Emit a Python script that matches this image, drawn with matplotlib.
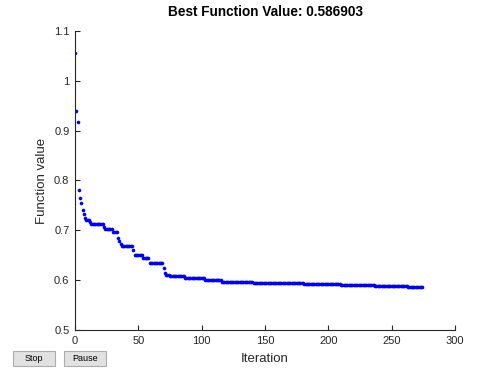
import numpy as np
import matplotlib
matplotlib.use('Agg')
import matplotlib.pyplot as plt
from matplotlib.patches import FancyBboxPatch

plt.rcParams['font.family'] = ['Liberation Sans', 'DejaVu Sans']

# --- valores: melhor valor da funcao por iteracao (em blocos) ---
best_vals = [1.055, 0.940, 0.917, 0.780, 0.765, 0.755, 0.741, 0.733, 0.725,
             0.721, 0.717, 0.713, 0.707, 0.703, 0.697, 0.685, 0.678, 0.673,
             0.669, 0.661, 0.651, 0.645, 0.634, 0.624, 0.614, 0.610, 0.608,
             0.605, 0.600, 0.596, 0.594, 0.592, 0.590, 0.589, 0.586903]
run_lengths = [1, 1, 1, 1, 1, 1, 1, 1, 1,
               3, 1, 10, 1, 6, 4, 1, 1, 1,
               9, 1, 7, 5, 11, 1, 1, 3, 12,
               16, 13, 25, 40, 29, 27, 26, 12]

fvals = np.repeat(best_vals, run_lengths)
iters = np.arange(len(fvals))

xticks = [0, 50, 100, 150, 200, 250, 300]
yticks = [0.5, 0.6, 0.7, 0.8, 0.9, 1.0, 1.1]
ytick_labels = ['0.5', '0.6', '0.7', '0.8', '0.9', '1', '1.1']

cor_eixo = '#262626'

fig = plt.figure(figsize=(4.84, 3.82), dpi=100)
ax = fig.add_axes([75 / 484, 52 / 382, 380 / 484, 299 / 382])

ax.plot(iters, fvals, linestyle='none', marker='o', markersize=2.6,
        markeredgewidth=0, color='blue')

ax.set_xlim(0, 300)
ax.set_ylim(0.5, 1.1)
ax.set_xticks(xticks)
ax.set_yticks(yticks)
ax.set_yticklabels(ytick_labels)

for lado in ['top', 'right']:
    ax.spines[lado].set_visible(False)
for lado in ['left', 'bottom']:
    ax.spines[lado].set_color(cor_eixo)
    ax.spines[lado].set_linewidth(0.8)

ax.tick_params(direction='in', length=3.5, width=0.8, colors=cor_eixo,
               labelsize=8, pad=4)

ax.set_xlabel('Iteration', fontsize=9.5, color=cor_eixo, labelpad=5)
ax.set_ylabel('Function value', fontsize=9.5, color=cor_eixo, labelpad=4)
ax.set_title(f'Best Function Value: {best_vals[-1]:g}', fontsize=9.8,
             fontweight='bold', pad=11)

# botoes Stop / Pause (estilo da janela do MATLAB)
def botao(x0, texto):
    w, h = 42 / 484, 15 / 382
    y0 = (382 - 366) / 382
    caixa = FancyBboxPatch((x0 / 484, y0), w, h, boxstyle='square,pad=0',
                           transform=fig.transFigure, facecolor='#e1e1e1',
                           edgecolor='#adadad', linewidth=0.8)
    fig.patches.append(caixa)
    fig.text(x0 / 484 + w / 2, y0 + h / 2, texto, ha='center', va='center',
             fontsize=6.5, color='black')

botao(13, 'Stop')
botao(64, 'Pause')

fig.savefig('out.png', dpi=100)
plt.close(fig)
